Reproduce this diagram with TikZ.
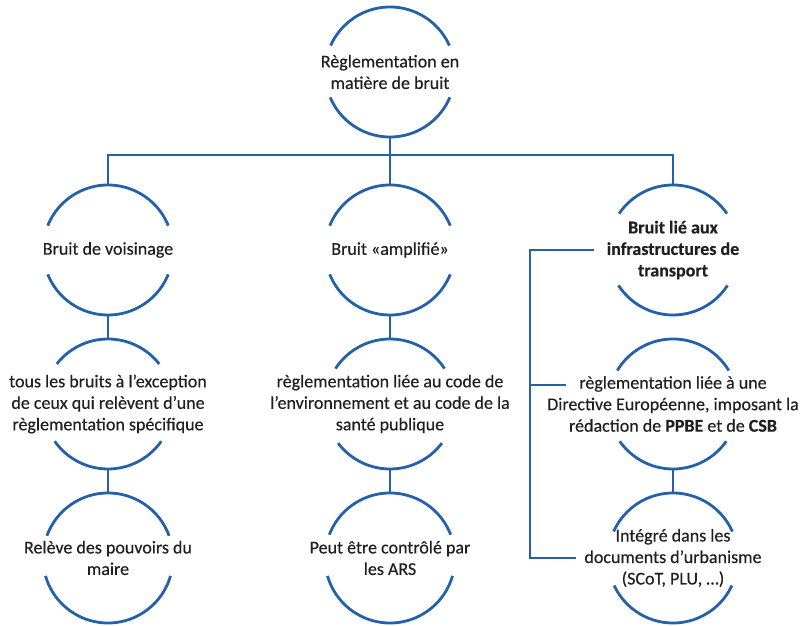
\documentclass[tikz,border=0pt]{standalone}
\usepackage{fontspec}
\setmainfont{Carlito}[FakeBold=0.4]
\usepackage{tikz}
\usetikzlibrary{positioning,calc}
\definecolor{ringblue}{HTML}{2461A8}
\definecolor{txtgray}{HTML}{231F20}

\begin{document}
\begin{tikzpicture}[
  x=1pt,y=1pt,
  node distance=24pt,
  ring/.style={circle,minimum size=130pt,inner sep=0pt,outer sep=0pt},
  txt/.style={align=center,text=txtgray,font=\fontsize{18}{21.5}\selectfont},
  ringline/.style={ringblue,line width=2.8pt},
  link/.style={ringblue,line width=2.8pt}
]
\useasboundingbox (0,0) rectangle (811,626);

\node[ring,label={[txt]center:Règlementation en\\matière de bruit}] (root) at (390,554) {};

\node[ring,label={[txt]center:Bruit de voisinage}] (voisin) at (108,376) {};
\node[ring,below=of voisin,label={[txt]center:tous les bruits à l’exception\\de ceux qui relèvent d’une\\règlementation spécifique}] (tous) {};
\node[ring,below=of tous,label={[txt]center:Relève des pouvoirs du\\maire}] (maire) {};

\node[ring,label={[txt]center:Bruit «amplifié»}] (ampli) at (390,376) {};
\node[ring,below=of ampli,label={[txt]center:règlementation liée au code de\\l’environnement et au code de la\\santé publique}] (code) {};
\node[ring,below=of code,label={[txt]center:Peut être contrôlé par\\les ARS}] (ars) {};

\node[ring,label={[txt,font=\fontsize{18}{21.5}\selectfont\bfseries]center:Bruit lié aux\\infrastructures de\\transport}] (infra) at (673,376) {};
\node[ring,below=of infra,label={[txt]center:règlementation liée à une\\Directive Européenne, imposant la\\rédaction de \textbf{PPBE} et de \textbf{CSB}}] (directive) {};
\node[ring,below=of directive,label={[txt]center:Intégré dans les\\documents d’urbanisme\\(SCoT, PLU, …)}] (integre) {};

% broken circles: top and bottom arcs only
\foreach \n/\t/\b in {root/24/23, voisin/22/22, tous/38/35, maire/20/16,
    ampli/22/22, code/33/37, ars/21/16, infra/34/33, directive/31/35, integre/24/25}{
  \draw[ringline] (\n.\t) arc[start angle=\t,end angle=180-\t,radius=65pt];
  \draw[ringline] (\n.-\b) arc[start angle=-\b,end angle=-180+\b,radius=65pt];
}

\draw[link] (root) -- (ampli);
\draw[link] (voisin.north) -- ++(0,30) -| (infra.north);
\draw[link] (voisin) -- (tous);
\draw[link] (tous) -- (maire);
\draw[link] (ampli) -- (code);
\draw[link] (code) -- (ars);
\draw[link] (directive) -- (integre);

% bracket on the left of the third column
\draw[link] ([xshift=-14pt]infra.west) -- ++(-64,0) |- ([xshift=-32pt]integre.west);
\draw[link] ([xshift=-42pt,yshift=19pt]directive.west) -- ++(-36,0);
\end{tikzpicture}
\end{document}
